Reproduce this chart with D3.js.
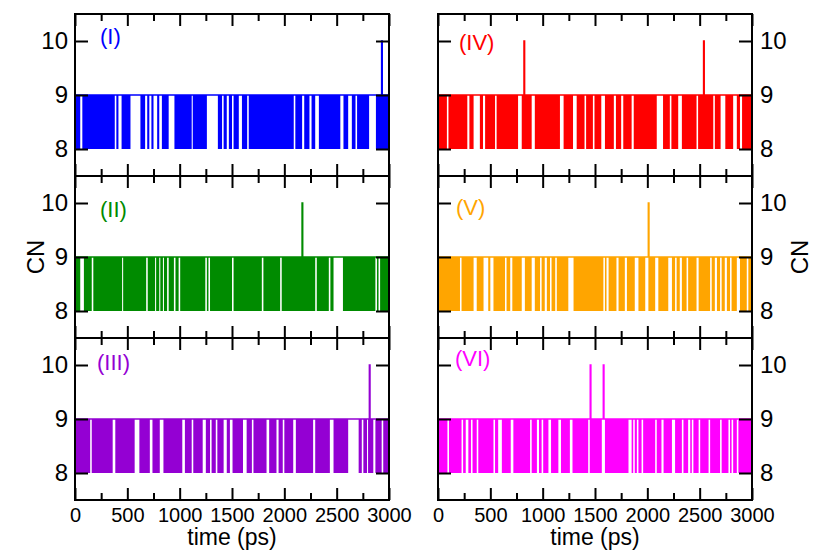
<!DOCTYPE html>
<html><head><meta charset="utf-8">
<script src="https://cdn.jsdelivr.net/npm/d3@7"></script>
<style>body{margin:0;background:#fff} svg text{font-family:"Liberation Sans",Arial,Helvetica,sans-serif}</style>
</head><body><svg id="c" width="815" height="550"></svg>
<script>
// ---- data: CN(t) = 9 baseline; intervals [t0,t1] (ps) where CN fluctuates between 8 and 9; spikes where CN = 10
const panelLabels = ["(I)", "(II)", "(III)", "(IV)", "(V)", "(VI)"];
const xTickValues = [0, 500, 1000, 1500, 2000, 2500, 3000];
const xMinorTicks = [250, 750, 1250, 1750, 2250, 2750];
const yTickValues = [8, 9, 10];
const baseCN = 9, lowCN = 8, highCN = 10;

const blocksI = [[0,50],[70,380],[395,415],[445,530],[625,670],[690,710],[730,750],[785,805],[830,895],[950,1115],[1125,1260],[1365,1405],[1420,1450],[1470,1500],[1515,1565],[1595,1645],[1660,2090],[2105,2170],[2190,2240],[2260,2295],[2330,2535],[2565,2610],[2645,2680],[2695,2810],[2875,3000]];
const spikesI = [2930];
const blocksII = [[0,50],[85,160],[175,450],[460,680],[695,765],[775,805],[815,840],[850,880],[895,945],[960,990],[1005,1245],[1260,1275],[1290,1500],[1515,1785],[1800,1960],[1975,2295],[2310,2425],[2440,2470],[2560,2870],[2885,2900],[2915,3000]];
const spikesII = [2170];
const blocksIII = [[0,145],[160,360],[385,570],[615,715],[740,810],[845,1025],[1050,1115],[1130,1220],[1250,1290],[1305,1345],[1360,1420],[1450,1480],[1505,1605],[1640,1690],[1705,1830],[1855,1925],[1945,1985],[2000,2085],[2110,2275],[2295,2435],[2470,2610],[2710,2740],[2755,2790],[2800,2850],[2870,2930],[2945,3000]];
const spikesIII = [2813];
const blocksIV = [[0,85],[100,280],[300,340],[400,430],[450,545],[560,765],[800,895],[925,1165],[1200,1290],[1325,1400],[1415,1480],[1495,1560],[1595,1680],[1700,1750],[1770,1850],[1870,2090],[2150,2215],[2230,2295],[2330,2470],[2485,2630],[2645,2700],[2745,2820],[2855,2885],[2905,3000]];
const spikesIV = [822, 2538];
const blocksV = [[0,210],[225,340],[370,435],[480,500],[530,640],[655,690],[710,800],[830,895],[925,975],[990,1020],[1040,1070],[1085,1120],[1135,1245],[1295,1580],[1595,1610],[1630,1705],[1725,1785],[1805,1880],[1915,1980],[2010,2075],[2105,2200],[2235,2265],[2280,2310],[2330,2375],[2390,2470],[2490,2600],[2615,2645],[2665,2695],[2710,2740],[2760,2790],[2805,2855],[2885,2950],[2965,3000]];
const spikesV = [2010];
const blocksVI = [[0,90],[105,225],[240,265],[290,315],[330,370],[385,530],[545,575],[610,695],[720,880],[895,945],[965,990],[1005,1055],[1080,1150],[1175,1260],[1285,1435],[1450,1565],[1595,1820],[1850,1865],[1880,1900],[1915,1945],[1960,2075],[2090,2135],[2155,2235],[2265,2330],[2345,2390],[2410,2425],[2440,2490],[2505,2585],[2600,2695],[2710,2775],[2790,2805],[2820,2855],[2870,3000]];
const spikesVI = [1455, 1580];

const allBlocks = [blocksI, blocksII, blocksIII, blocksIV, blocksV, blocksVI];
const allSpikes = [spikesI, spikesII, spikesIII, spikesIV, spikesV, spikesVI];

// ---- styles / layout
const colors = ["#0000ff", "#008b00", "#9400d3", "#ff0000", "#ffa500", "#ff00ff"];
const colX = [75, 438], panelW = 314, top0 = 14, panelH = 162;
const labelPos = [[100, 44], [100, 217], [97, 370], [459, 50], [456, 215], [455, 366]];
const spikeW = 5;

const svg = d3.select("#c");
const x0 = 0, x1 = 3000;

function styleAxis(g, fs) {
  g.select(".domain").remove();
  g.selectAll("line").attr("stroke", "#000").attr("stroke-width", 2);
  g.selectAll("text").attr("font-size", fs).attr("fill", "#000")
    .attr("font-family", "'Liberation Sans',Arial,Helvetica,sans-serif");
}

for (let i = 0; i < 6; i++) {
  const col = i < 3 ? 0 : 1, row = i % 3;
  const left = colX[col], top = top0 + row * panelH;
  const x = d3.scaleLinear().domain([x0, x1]).range([left, left + panelW]);
  const y = d3.scaleLinear().domain([7.5, 10.5]).range([top + panelH, top]);
  const g = svg.append("g");

  // fluctuation intervals
  g.selectAll("rect.blk").data(allBlocks[i]).enter().append("rect")
    .attr("x", d => x(d[0])).attr("width", d => Math.max(0.5, x(d[1]) - x(d[0])))
    .attr("y", y(baseCN)).attr("height", y(lowCN) - y(baseCN))
    .attr("fill", colors[i]);

  // CN=9 line with spikes to 10
  const pts = [[x0, baseCN]];
  allSpikes[i].forEach(t => { pts.push([t, baseCN], [t, highCN], [t + spikeW, highCN], [t + spikeW, baseCN]); });
  pts.push([x1, baseCN]);
  const line = d3.line().x(d => x(d[0])).y(d => y(d[1]));
  g.append("path").attr("d", line(pts)).attr("fill", "none")
    .attr("stroke", colors[i]).attr("stroke-width", 1.6);

  // axes
  const bottom = row === 2;
  const axB = g.append("g").attr("transform", `translate(0,${top + panelH})`)
    .call(d3.axisBottom(x).tickValues(xTickValues).tickSize(-12).tickPadding(8)
      .tickFormat(bottom ? d3.format("d") : () => ""));
  styleAxis(axB, 20);
  const axBm = g.append("g").attr("transform", `translate(0,${top + panelH})`)
    .call(d3.axisBottom(x).tickValues(xMinorTicks).tickSize(-7).tickFormat(() => ""));
  styleAxis(axBm, 20);
  const axT = g.append("g").attr("transform", `translate(0,${top})`)
    .call(d3.axisTop(x).tickValues(xTickValues).tickSize(-12).tickFormat(() => ""));
  styleAxis(axT, 20);
  const axTm = g.append("g").attr("transform", `translate(0,${top})`)
    .call(d3.axisTop(x).tickValues(xMinorTicks).tickSize(-7).tickFormat(() => ""));
  styleAxis(axTm, 20);

  const axL = g.append("g").attr("transform", `translate(${left},0)`)
    .call(d3.axisLeft(y).tickValues(yTickValues).tickSize(-13).tickPadding(7)
      .tickFormat(col === 0 ? d3.format("d") : () => ""));
  styleAxis(axL, 24);
  const axR = g.append("g").attr("transform", `translate(${left + panelW},0)`)
    .call(d3.axisRight(y).tickValues(yTickValues).tickSize(-13).tickPadding(8)
      .tickFormat(col === 1 ? d3.format("d") : () => ""));
  styleAxis(axR, 24);

  // frame
  g.append("rect").attr("x", left).attr("y", top).attr("width", panelW).attr("height", panelH)
    .attr("fill", "none").attr("stroke", "#000").attr("stroke-width", 2);

  // panel label
  g.append("text").attr("x", labelPos[i][0]).attr("y", labelPos[i][1])
    .attr("font-size", 22).attr("fill", colors[i]).text(panelLabels[i]);
}

// axis titles
colX.forEach(l => {
  svg.append("text").attr("x", l + panelW / 2).attr("y", 545).attr("text-anchor", "middle")
    .attr("font-size", 23).text("time (ps)");
});
svg.append("text").attr("transform", "translate(44,257) rotate(-90)").attr("text-anchor", "middle")
  .attr("font-size", 24).text("CN");
svg.append("text").attr("transform", "translate(808,257) rotate(-90)").attr("text-anchor", "middle")
  .attr("font-size", 24).text("CN");
</script></body></html>
